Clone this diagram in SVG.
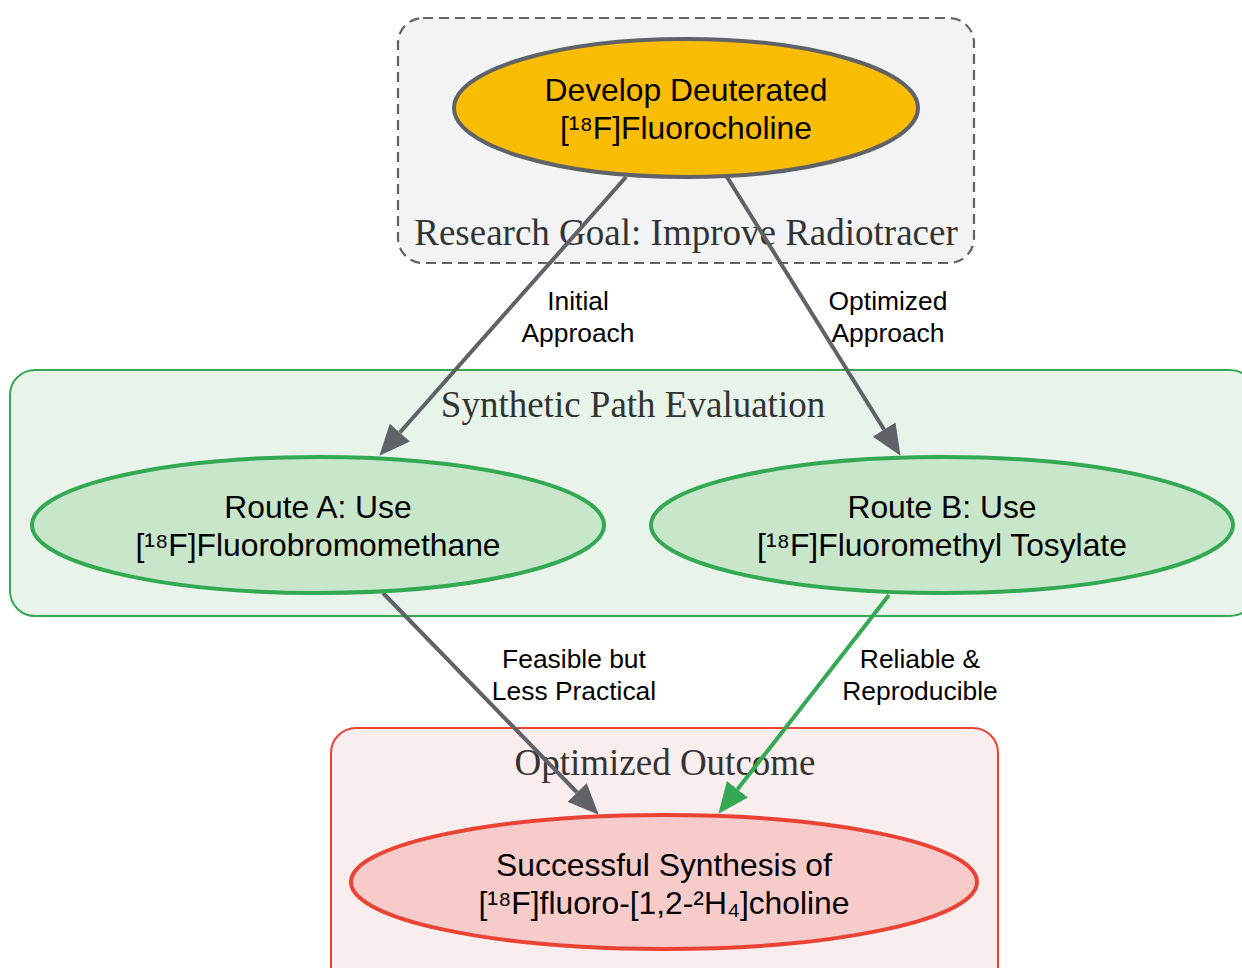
<svg xmlns="http://www.w3.org/2000/svg" width="1242" height="968" viewBox="0 0 1242 968">
<defs>
<style>
.cl{font-family:"Liberation Serif","Times New Roman",serif;font-size:37px;fill:#333333;text-anchor:middle}
.nt{font-family:"Liberation Sans",Arial,sans-serif;font-size:31.8px;fill:#000000;text-anchor:middle}
.el{font-family:"Liberation Sans",Arial,sans-serif;font-size:26.4px;fill:#000000;text-anchor:middle}
.eg{fill:none;stroke:#5f6368;stroke-width:4}
.eG{fill:none;stroke:#34a853;stroke-width:4}
</style>
<marker id="ag" markerUnits="userSpaceOnUse" markerWidth="31" markerHeight="27" viewBox="0 0 30 26" refX="0" refY="13" orient="auto"><path d="M0,0 L30,13 L0,26 z" fill="#5f6368"/></marker>
<marker id="aG" markerUnits="userSpaceOnUse" markerWidth="31" markerHeight="27" viewBox="0 0 30 26" refX="0" refY="13" orient="auto"><path d="M0,0 L30,13 L0,26 z" fill="#34a853"/></marker>
</defs>
<rect width="1242" height="968" fill="#ffffff"/>
<g id="cluster_goal">
<rect x="398" y="18" width="576" height="245" rx="25" fill="#f1f3f4" stroke="#5f6368" stroke-width="2.2" stroke-dasharray="10,6"/>
<text class="cl" x="686" y="245">Research Goal: Improve Radiotracer</text>
</g>
<g id="cluster_paths">
<rect x="10" y="370" width="1245" height="246" rx="25" fill="#e8f4e9" stroke="#34a853" stroke-width="2"/>
<text class="cl" x="633" y="417">Synthetic Path Evaluation</text>
</g>
<g id="cluster_outcome">
<rect x="331" y="728" width="667" height="270" rx="25" fill="#f9eded" stroke="#ea4335" stroke-width="2"/>
<text class="cl" x="665" y="775">Optimized Outcome</text>
</g>
<g id="connectors">
<line class="eg" x1="626" y1="177" x2="399.9" y2="432.5" marker-end="url(#ag)"/>
<line class="eg" x1="727" y1="177" x2="884.1" y2="429.5" marker-end="url(#ag)"/>
<line class="eg" x1="383" y1="593" x2="577.1" y2="792.5" marker-end="url(#ag)"/>
<line class="eG" x1="889" y1="595" x2="737.5" y2="789.3" marker-end="url(#aG)"/>
<text class="el" x="578" y="310">Initial</text>
<text class="el" x="578" y="342">Approach</text>
<text class="el" x="888" y="310">Optimized</text>
<text class="el" x="888" y="342">Approach</text>
<text class="el" x="574" y="668">Feasible but</text>
<text class="el" x="574" y="700">Less Practical</text>
<text class="el" x="920" y="668">Reliable &amp;</text>
<text class="el" x="920" y="700">Reproducible</text>
</g>
<g id="node_goal">
<ellipse cx="686" cy="108" rx="232" ry="69" fill="#fbbc04" stroke="#5f6368" stroke-width="4"/>
<text class="nt" x="686" y="101">Develop Deuterated</text>
<text class="nt" x="686" y="139">[¹⁸F]Fluorocholine</text>
</g>
<g id="node_routeA">
<ellipse cx="318" cy="525" rx="286" ry="68" fill="#c8e6c9" stroke="#34a853" stroke-width="4"/>
<text class="nt" x="318" y="518">Route A: Use</text>
<text class="nt" x="318" y="556">[¹⁸F]Fluorobromomethane</text>
</g>
<g id="node_routeB">
<ellipse cx="942" cy="525" rx="291" ry="68" fill="#c8e6c9" stroke="#34a853" stroke-width="4"/>
<text class="nt" x="942" y="518">Route B: Use</text>
<text class="nt" x="942" y="556">[¹⁸F]Fluoromethyl Tosylate</text>
</g>
<g id="node_outcome">
<ellipse cx="664" cy="882" rx="313" ry="67" fill="#f8cbcb" stroke="#ea4335" stroke-width="4"/>
<text class="nt" x="664" y="876">Successful Synthesis of</text>
<text class="nt" x="664" y="914">[¹⁸F]fluoro-[1,2-²H₄]choline</text>
</g>
</svg>
